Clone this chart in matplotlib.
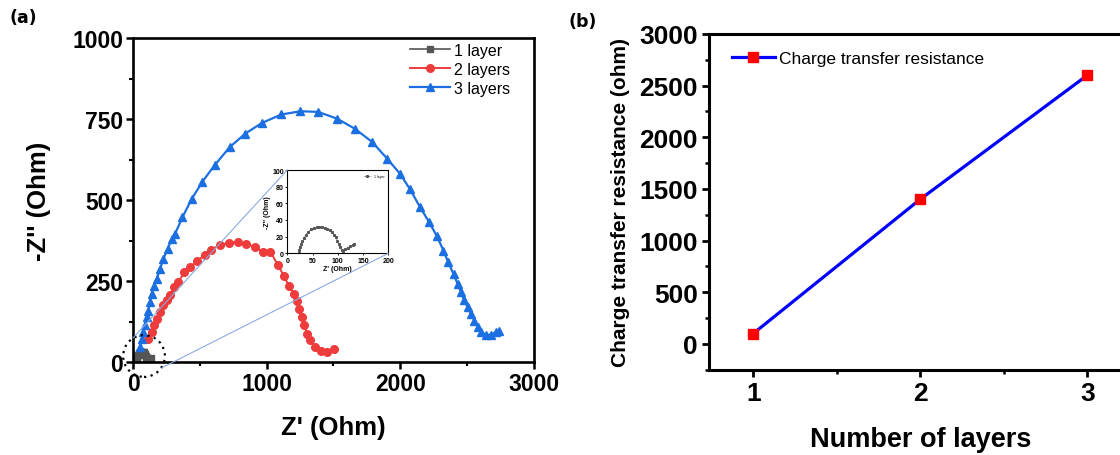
import matplotlib
matplotlib.use("Agg")
import matplotlib.pyplot as plt
import numpy as np
from matplotlib.patches import Ellipse, ConnectionPatch
from matplotlib.ticker import MultipleLocator

plt.rcParams['font.family'] = ['Liberation Sans', 'DejaVu Sans']

# ---- (a) Nyquist data ----
z1_re = [23.1, 23.8, 25.1, 27.1, 29.7, 33.0, 37.0, 41.6, 46.9, 52.1, 58.1, 63.4, 68.6, 73.9,
         79.2, 84.5, 89.1, 93.1, 96.4, 99.0, 101.7, 104.3, 107.6, 110.9, 114.9, 119.5, 124.1,
         129.4, 132.0]
z1_im = [0.0, 4.0, 8.0, 11.2, 14.4, 18.4, 22.4, 25.6, 28.8, 30.4, 31.6, 32.0, 31.6, 30.8,
         29.6, 27.6, 25.2, 22.4, 19.2, 15.2, 11.2, 7.2, 4.0, 3.2, 4.8, 6.8, 8.4, 10.4, 11.2]

z2_re = [115, 140, 160, 178, 203, 228, 253, 278, 310, 340, 385, 428, 478, 535, 585, 653, 715,
         783, 848, 910, 970, 1028, 1085, 1128, 1165, 1203, 1228, 1245, 1265, 1283, 1303, 1328,
         1360, 1403, 1453, 1503]
z2_im = [72, 92, 113, 134, 154, 175, 190, 206, 231, 247, 278, 293, 311, 331, 347, 362, 368,
         370, 365, 355, 341, 341, 298, 267, 236, 211, 187, 164, 139, 113, 87, 67, 46, 33, 31, 39]

z3_re = [52, 65, 78, 90, 103, 115, 128, 140, 158, 178, 203, 228, 260, 290, 315, 370, 440, 520,
         610, 723, 840, 965, 1110, 1253, 1385, 1528, 1660, 1790, 1903, 1998, 2073, 2148, 2215,
         2273, 2323, 2358, 2398, 2428, 2453, 2478, 2503, 2528, 2553, 2578, 2603, 2640, 2678,
         2715, 2740]
z3_im = [46, 72, 92, 113, 139, 159, 185, 211, 236, 257, 288, 319, 350, 380, 396, 447, 504, 557,
         607, 663, 705, 738, 764, 774, 772, 751, 720, 679, 627, 581, 533, 478, 432, 389, 344,
         308, 272, 242, 216, 190, 170, 149, 128, 108, 92, 84, 84, 92, 97]

# ---- (b) charge transfer resistance ----
layers = [1, 2, 3]
rct = [100, 1400, 2600]

c_gray = '#555555'
c_red = '#ee3b3b'
c_blue = '#1c6fe0'

fig = plt.figure(figsize=(11.2, 4.56), dpi=100)

# ================= panel (a) =================
ax = fig.add_axes([0.11875, 0.2039, 0.358, 0.7105])
ax.plot(z1_re, z1_im, color=c_gray, marker='s', ms=4.5, lw=1.2, label='1 layer')
ax.plot(z2_re, z2_im, color=c_red, marker='o', ms=5.5, lw=1.4, label='2 layers')
ax.plot(z3_re, z3_im, color=c_blue, marker='^', ms=6, lw=1.6, label='3 layers')
ax.set_xlim(0, 3000)
ax.set_ylim(0, 1000)
ax.xaxis.set_major_locator(MultipleLocator(1000))
ax.xaxis.set_minor_locator(MultipleLocator(500))
ax.yaxis.set_major_locator(MultipleLocator(250))
ax.yaxis.set_minor_locator(MultipleLocator(125))
for s in ax.spines.values():
    s.set_linewidth(1.9)
ax.tick_params(which='major', direction='out', length=5, width=1.8, labelsize=16.5, pad=2)
ax.tick_params(which='minor', direction='out', length=3, width=1.5)
for t in ax.get_xticklabels() + ax.get_yticklabels():
    t.set_fontweight('bold')
ax.set_xlabel("Z' (Ohm)", fontsize=18.5, fontweight='bold')
ax.set_ylabel("-Z'' (Ohm)", fontsize=18.5, fontweight='bold')
ax.xaxis.set_label_coords(0.5, -0.2)
ax.xaxis.label.set_va('center')
ax.yaxis.set_label_coords(-0.234, 0.5)
ax.yaxis.label.set_va('center')
ax.legend(loc='upper left', bbox_to_anchor=(0.69, 0.985), frameon=False, fontsize=11.5,
          handlelength=2.5, handletextpad=0.3, labelspacing=0.25, borderpad=0,
          borderaxespad=0)

# dotted circle around the origin region
circ = Ellipse((82.5, 18.5), 312, 129, fill=False, ls=(0, (1, 2)), lw=1.6, color='black',
               clip_on=False, zorder=5)
ax.add_patch(circ)

# inset with the 1 layer curve
ins = fig.add_axes([0.2565, 0.4423, 0.0902, 0.1827])
ins.plot(z1_re, z1_im, color=c_gray, marker='s', ms=1.2, lw=0.5, ls=(0, (2, 1)),
         label='1 layer')
ins.set_xlim(0, 200)
ins.set_ylim(0, 100)
ins.xaxis.set_major_locator(MultipleLocator(50))
ins.yaxis.set_major_locator(MultipleLocator(20))
ins.tick_params(direction='out', length=1.5, width=0.6, labelsize=5, pad=1)
for t in ins.get_xticklabels() + ins.get_yticklabels():
    t.set_fontweight('bold')
for s in ins.spines.values():
    s.set_linewidth(0.8)
ins.set_xlabel("Z' (Ohm)", fontsize=5, fontweight='bold', labelpad=1)
ins.set_ylabel("-Z'' (Ohm)", fontsize=5, fontweight='bold', labelpad=1)
ins.legend(loc='upper right', frameon=False, fontsize=2.5, handlelength=2, borderpad=0.6)

# zoom connector lines
for xyA, xyB in [((0, 1), (0, 74)), ((1, 0), (215, -18))]:
    con = ConnectionPatch(xyA=xyA, coordsA=ins.transAxes, xyB=xyB, coordsB=ax.transData,
                          color='#8aaae0', lw=0.8, zorder=1)
    fig.add_artist(con)

fig.text(0.0205, 0.96, '(a)', fontsize=12.5, fontweight='bold', family='DejaVu Sans',
         ha='center', va='center')

# ================= panel (b) =================
bx = fig.add_axes([0.633, 0.187, 0.3773, 0.7364])
bx.plot(layers, rct, color='#0000ff', lw=2.3, marker='s', ms=7.5, mfc='#ff0000', mec='#ff0000',
        label='Charge transfer resistance')
bx.set_xlim(0.735, 3.265)
bx.set_ylim(-250, 3000)
bx.xaxis.set_major_locator(MultipleLocator(1))
bx.xaxis.set_minor_locator(MultipleLocator(0.5))
bx.yaxis.set_major_locator(MultipleLocator(500))
bx.yaxis.set_minor_locator(MultipleLocator(250))
for s in bx.spines.values():
    s.set_linewidth(2.2)
bx.tick_params(which='major', direction='out', length=5, width=2, labelsize=19, pad=3)
bx.tick_params(which='minor', direction='out', length=3, width=1.8)
for t in bx.get_xticklabels() + bx.get_yticklabels():
    t.set_fontweight('bold')
bx.set_xlabel('Number of layers', fontsize=19.5, fontweight='bold')
bx.set_ylabel('Charge transfer resistance (ohm)', fontsize=15, fontweight='bold')
bx.xaxis.set_label_coords(0.5, -0.206)
bx.xaxis.label.set_va('center')
bx.yaxis.set_label_coords(-0.21, 0.5)
bx.yaxis.label.set_va('center')
bx.legend(loc='center left', bbox_to_anchor=(0.054, 0.928), frameon=False, fontsize=12.5,
          handlelength=2.5, handletextpad=0.2, borderpad=0, borderaxespad=0)

fig.text(0.5205, 0.952, '(b)', fontsize=12.5, fontweight='bold', family='DejaVu Sans',
         ha='center', va='center')

fig.savefig('out.png', dpi=100)
